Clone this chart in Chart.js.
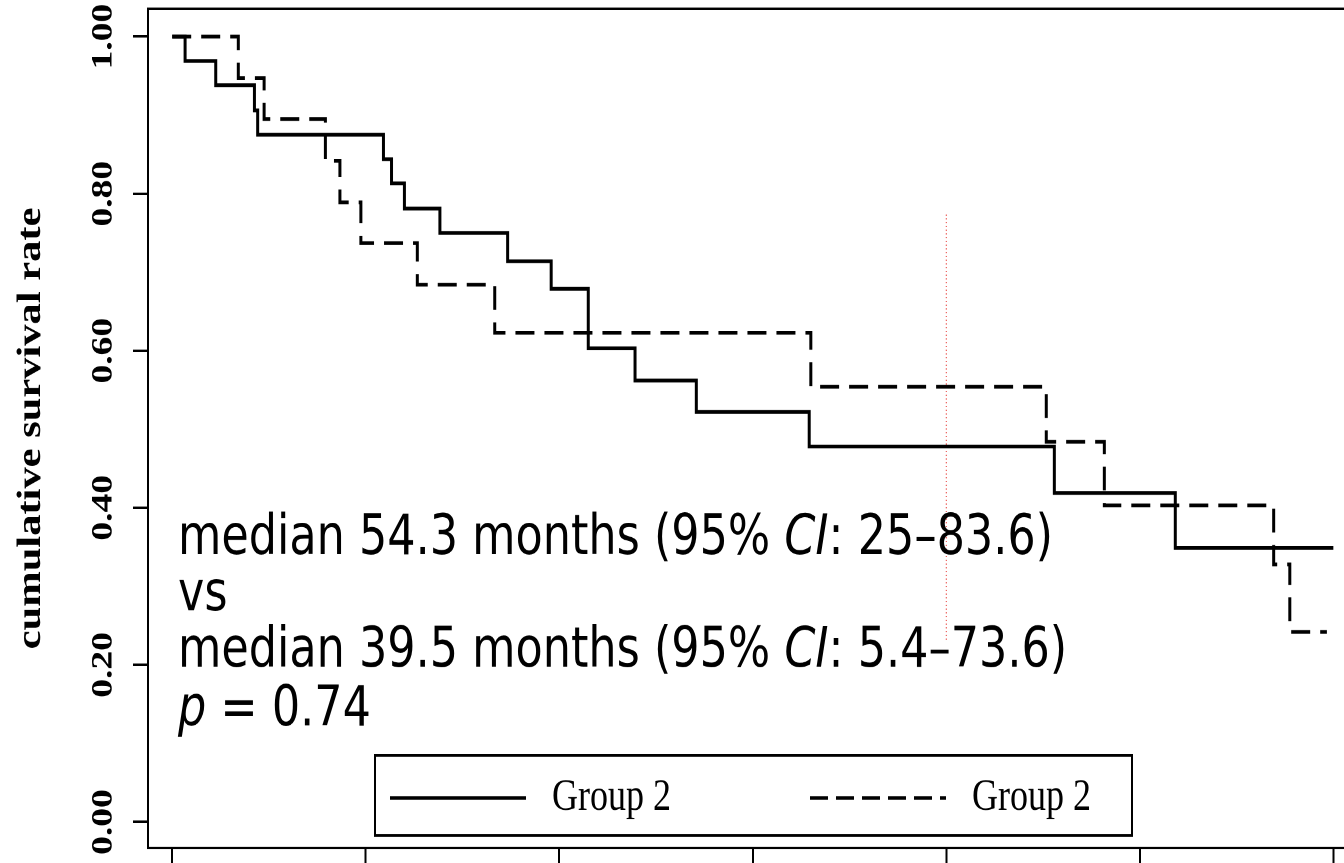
<!DOCTYPE html>
<html>
<head>
<meta charset="utf-8">
<title>Cumulative survival rate</title>
<script src="https://cdn.jsdelivr.net/npm/chart.js@4.4.1/dist/chart.umd.min.js"></script>
<style>
    html { overflow: hidden; }
    body { margin: 0; padding: 0; background: #fff; width: 1344px; height: 863px; }
    /* the source figure was stretched vertically, so draw flatter and stretch back */
    #wrap {
        position: relative;
        width: 1380px;
        height: 690px;
        transform: scaleY(1.2507);
        transform-origin: 0 0;
    }
</style>
</head>
<body>
<div id="wrap"><canvas id="survChart"></canvas></div>
<script>
// Kaplan-Meier steps (months, cumulative survival)
const solidTimes = [0, 0.8, 2.7, 5.1, 5.3, 13.1, 13.6, 14.4, 16.6, 20.8, 23.5, 25.8, 28.7, 32.5, 39.5, 54.7, 62.2, 72.0];
const solidSurv = [1.000, 0.969, 0.938, 0.906, 0.875, 0.844, 0.813, 0.781, 0.750, 0.714, 0.679, 0.603, 0.562, 0.522, 0.478, 0.419, 0.349, 0.349];

const dashTimes = [0, 4.1, 5.7, 9.5, 10.4, 11.7, 15.2, 20.0, 39.6, 54.2, 57.8, 68.3, 69.3, 71.6];
const dashSurv = [1.000, 0.947, 0.895, 0.842, 0.789, 0.737, 0.684, 0.623, 0.554, 0.484, 0.403, 0.328, 0.242, 0.242];

const seriesLabels = ['Group 2', 'Group 2'];

// red dotted marker
const markTime = 48;
const markRange = [0.232, 0.776];

const xTicks = [0, 12, 24, 36, 48, 60, 72];
const yTicks = [0, 0.2, 0.4, 0.6, 0.8, 1.0];

const noteLines = [
    [['median 54.3 months (95% ', false], ['CI', true], [': 25\u201383.6)', false]],
    [['vs', false]],
    [['median 39.5 months (95% ', false], ['CI', true], [': 5.4\u201373.6)', false]],
    [['p', true], [' = 0.74', false]]
];

function toPoints(times, values) {
    return times.map((t, i) => ({ x: t, y: values[i] }));
}

// box around the plot area
const framePlugin = {
    id: 'frame',
    afterDatasetsDraw(chart) {
        const a = chart.chartArea;
        const c = chart.ctx;
        c.save();
        c.strokeStyle = '#000';
        c.lineWidth = 2;
        c.strokeRect(a.left, a.top, a.right - a.left, a.bottom - a.top);
        c.restore();
    }
};

// median / p-value text block
const notePlugin = {
    id: 'note',
    afterDraw(chart) {
        const c = chart.ctx;
        const left = chart.chartArea.left + 30;
        const baselines = [443, 488, 533, 580];
        c.save();
        c.fillStyle = '#000';
        c.textBaseline = 'alphabetic';
        noteLines.forEach((parts, i) => {
            let x = left;
            parts.forEach(([txt, italic]) => {
                c.font = (italic ? 'italic ' : '') + '44.5px "DejaVu Sans"';
                c.fillText(txt, x, baselines[i]);
                x += c.measureText(txt).width;
            });
        });
        c.restore();
    }
};

// boxed legend inside the plot
const legendPlugin = {
    id: 'boxLegend',
    afterDraw(chart) {
        const c = chart.ctx;
        const box = { left: 375, top: 604, right: 1132, bottom: 668 };
        const midY = 638;
        const entries = [
            { x: 390, textX: 552 },
            { x: 810, textX: 972 }
        ];
        c.save();
        c.strokeStyle = '#000';
        c.lineWidth = 2;
        c.strokeRect(box.left, box.top, box.right - box.left, box.bottom - box.top);
        entries.forEach((e, i) => {
            const ds = chart.data.datasets[i];
            c.beginPath();
            c.setLineDash(i === 1 ? [18, 8] : []);
            c.lineWidth = 2.8;
            c.moveTo(e.x, midY);
            c.lineTo(e.x + 136, midY);
            c.stroke();
            c.setLineDash([]);
            c.font = '36px "Liberation Serif"';
            c.fillStyle = '#000';
            c.textBaseline = 'middle';
            c.fillText(ds.label, e.textX, midY);
        });
        c.restore();
    }
};

const ctx = document.getElementById('survChart').getContext('2d');
const survChart = new Chart(ctx, {
    type: 'line',
    data: {
        datasets: [
            {
                label: seriesLabels[0],
                data: toPoints(solidTimes, solidSurv),
                borderColor: '#000',
                borderWidth: 3,
                stepped: true,
                pointRadius: 0,
                fill: false
            },
            {
                label: seriesLabels[1],
                data: toPoints(dashTimes, dashSurv),
                borderColor: '#000',
                borderWidth: 3,
                borderDash: [19, 10],
                stepped: true,
                pointRadius: 0,
                fill: false
            },
            {
                label: 'marker',
                data: [{ x: markTime, y: markRange[0] }, { x: markTime, y: markRange[1] }],
                borderColor: '#e8413c',
                borderWidth: 1,
                borderDash: [1, 2],
                pointRadius: 0,
                fill: false
            }
        ]
    },
    options: {
        responsive: true,
        maintainAspectRatio: false,
        animation: false,
        devicePixelRatio: 2,
        layout: { padding: { top: 7, left: 0, right: 0, bottom: 0 } },
        plugins: {
            legend: { display: false },
            tooltip: { enabled: false }
        },
        scales: {
            x: {
                type: 'linear',
                min: -1.5,
                max: 74.8,
                border: { display: false },
                grid: { drawOnChartArea: false, drawTicks: true, tickLength: 12, lineWidth: 2, color: '#000' },
                ticks: { display: false },
                afterBuildTicks: scale => { scale.ticks = xTicks.map(v => ({ value: v })); },
                afterFit: scale => { scale.height = 12; }
            },
            y: {
                type: 'linear',
                min: -0.0331,
                max: 1.0354,
                border: { display: false },
                grid: { drawOnChartArea: false, drawTicks: true, tickLength: 15, lineWidth: 2, color: '#000' },
                ticks: {
                    color: '#000',
                    font: { family: '"Liberation Serif"', size: 30, weight: 'bold' },
                    minRotation: 90,
                    maxRotation: 90,
                    crossAlign: 'center',
                    padding: 3,
                    callback: v => Number(v).toFixed(2)
                },
                title: {
                    display: true,
                    text: 'cumulative survival rate',
                    color: '#000',
                    font: { family: '"Liberation Serif"', size: 34, weight: 'bold' },
                    padding: { top: 11, bottom: 0 }
                },
                afterBuildTicks: scale => { scale.ticks = yTicks.map(v => ({ value: v })); },
                afterFit: scale => {
                    scale.width = 148;
                    scale.paddingTop = 0;
                    scale.paddingBottom = 0;
                }
            }
        }
    },
    plugins: [framePlugin, notePlugin, legendPlugin]
});
</script>
</body>
</html>
